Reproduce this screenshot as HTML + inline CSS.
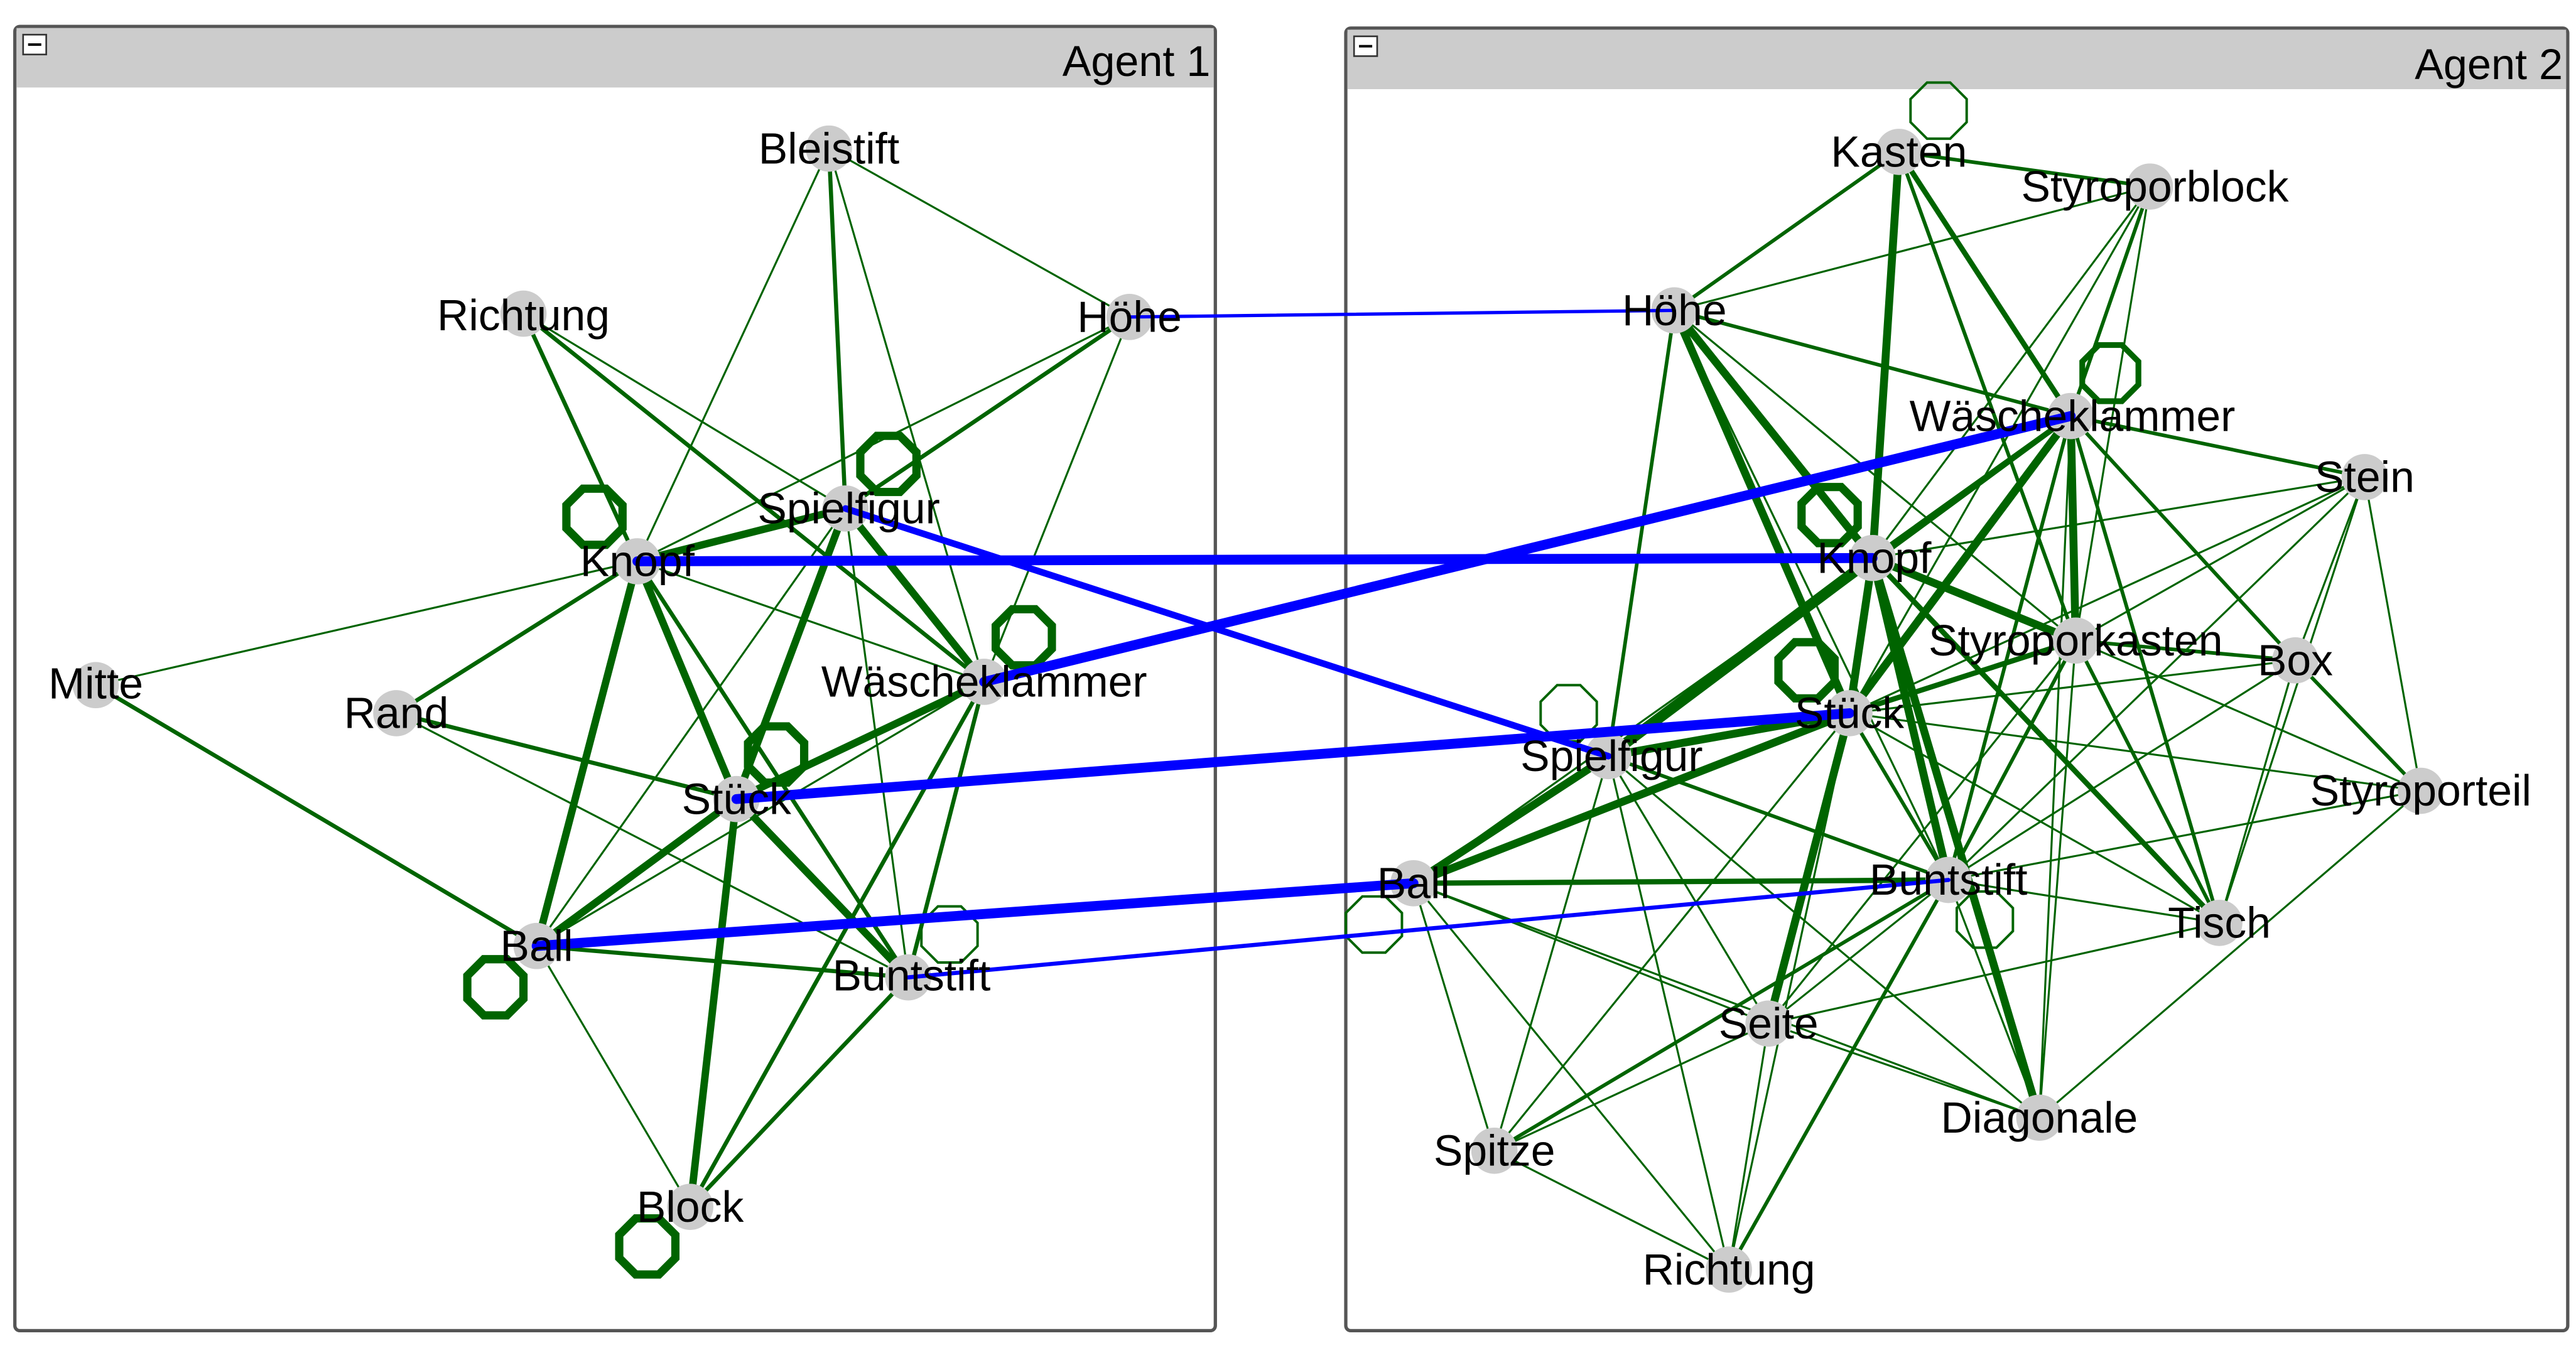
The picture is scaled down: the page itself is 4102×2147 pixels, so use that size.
<!DOCTYPE html>
<html><head><meta charset="utf-8"><style>
html,body{margin:0;padding:0;background:#fff;}
svg{display:block;}
text{font-family:"Liberation Sans",sans-serif;font-size:26.5px;fill:#000;text-anchor:middle;}
</style></head><body>
<svg width="4102" height="2147" viewBox="0 0 1560 816.5" preserveAspectRatio="none" xmlns="http://www.w3.org/2000/svg">
<defs>
<polygon id="oct" points="-7,-17 7,-17 17,-7 17,7 7,17 -7,17 -17,7 -17,-7" fill="none"/>
</defs>
<rect x="9" y="16" width="727" height="790" rx="3" fill="#fff" stroke="#555" stroke-width="2"/>
<rect x="10" y="17" width="725" height="36" fill="#cccccc"/>
<rect x="14" y="21" width="14" height="12" fill="#fff" stroke="#333" stroke-width="1"/><line x1="17" y1="27" x2="25" y2="27" stroke="#000" stroke-width="1.5"/>
<text x="733" y="46" style="text-anchor:end;font-size:26px">Agent 1</text>
<rect x="815" y="17" width="740" height="789" rx="3" fill="#fff" stroke="#555" stroke-width="2"/>
<rect x="816" y="18" width="738" height="36" fill="#cccccc"/>
<rect x="820" y="22" width="14" height="12" fill="#fff" stroke="#333" stroke-width="1"/><line x1="823" y1="28" x2="831" y2="28" stroke="#000" stroke-width="1.5"/>
<text x="1552" y="48" style="text-anchor:end;font-size:26px">Agent 2</text>

<g stroke="#006400" fill="none" stroke-linecap="round">
<g stroke-width="1.2">
<line x1="502" y1="90" x2="684" y2="192"/>
<line x1="502" y1="90" x2="386" y2="340"/>
<line x1="502" y1="90" x2="596" y2="413"/>
<line x1="684" y1="192" x2="386" y2="340"/>
<line x1="684" y1="192" x2="596" y2="413"/>
<line x1="386" y1="340" x2="58" y2="415"/>
<line x1="386" y1="340" x2="240" y2="432"/>
<line x1="386" y1="340" x2="596" y2="413"/>
<line x1="512" y1="308" x2="325" y2="573"/>
<line x1="512" y1="308" x2="550" y2="592"/>
<line x1="240" y1="432" x2="550" y2="592"/>
<line x1="596" y1="413" x2="325" y2="573"/>
<line x1="446" y1="484" x2="325" y2="573"/>
<line x1="325" y1="573" x2="418" y2="731"/>
<line x1="317" y1="190" x2="512" y2="308"/>
</g>
<g stroke-width="2.5">
<line x1="317" y1="190" x2="386" y2="340"/>
<line x1="317" y1="190" x2="596" y2="413"/>
<line x1="502" y1="90" x2="512" y2="308"/>
<line x1="684" y1="192" x2="512" y2="308"/>
<line x1="386" y1="340" x2="240" y2="432"/>
<line x1="58" y1="415" x2="325" y2="573"/>
<line x1="240" y1="432" x2="446" y2="484"/>
<line x1="386" y1="340" x2="550" y2="592"/>
<line x1="596" y1="413" x2="550" y2="592"/>
<line x1="325" y1="573" x2="550" y2="592"/>
<line x1="596" y1="413" x2="418" y2="731"/>
<line x1="550" y1="592" x2="418" y2="731"/>
</g>
<g stroke-width="4.5">
<line x1="512" y1="308" x2="386" y2="340"/>
<line x1="512" y1="308" x2="446" y2="484"/>
<line x1="512" y1="308" x2="596" y2="413"/>
<line x1="386" y1="340" x2="325" y2="573"/>
<line x1="386" y1="340" x2="446" y2="484"/>
<line x1="596" y1="413" x2="446" y2="484"/>
<line x1="446" y1="484" x2="325" y2="573"/>
<line x1="446" y1="484" x2="550" y2="592"/>
<line x1="446" y1="484" x2="418" y2="731"/>
</g>
<g stroke-width="1.2">
<line x1="1302" y1="113" x2="1014" y2="188"/>
<line x1="1302" y1="113" x2="1257" y2="388"/>
<line x1="1302" y1="113" x2="1134" y2="338"/>
<line x1="1302" y1="113" x2="1120" y2="432"/>
<line x1="1014" y1="188" x2="1257" y2="388"/>
<line x1="1014" y1="188" x2="1180" y2="533"/>
<line x1="1432" y1="289" x2="1134" y2="338"/>
<line x1="1432" y1="289" x2="1257" y2="388"/>
<line x1="1432" y1="289" x2="1390" y2="400"/>
<line x1="1432" y1="289" x2="1466" y2="479"/>
<line x1="1432" y1="289" x2="1120" y2="432"/>
<line x1="1432" y1="289" x2="1180" y2="533"/>
<line x1="1432" y1="289" x2="1344" y2="559"/>
<line x1="1134" y1="338" x2="856" y2="535"/>
<line x1="1257" y1="388" x2="1466" y2="479"/>
<line x1="1257" y1="388" x2="1071" y2="620"/>
<line x1="1257" y1="388" x2="1235" y2="677"/>
<line x1="1390" y1="400" x2="1344" y2="559"/>
<line x1="1390" y1="400" x2="1120" y2="432"/>
<line x1="1390" y1="400" x2="1180" y2="533"/>
<line x1="1120" y1="432" x2="1466" y2="479"/>
<line x1="1120" y1="432" x2="1344" y2="559"/>
<line x1="1120" y1="432" x2="1047" y2="769"/>
<line x1="1120" y1="432" x2="905" y2="697"/>
<line x1="974" y1="458" x2="1071" y2="620"/>
<line x1="974" y1="458" x2="1047" y2="769"/>
<line x1="974" y1="458" x2="905" y2="697"/>
<line x1="974" y1="458" x2="1235" y2="677"/>
<line x1="856" y1="535" x2="1071" y2="620"/>
<line x1="856" y1="535" x2="905" y2="697"/>
<line x1="856" y1="535" x2="1047" y2="769"/>
<line x1="856" y1="535" x2="1235" y2="677"/>
<line x1="1180" y1="533" x2="1344" y2="559"/>
<line x1="1180" y1="533" x2="1235" y2="677"/>
<line x1="1180" y1="533" x2="1466" y2="479"/>
<line x1="1180" y1="533" x2="1071" y2="620"/>
<line x1="1344" y1="559" x2="1071" y2="620"/>
<line x1="1466" y1="479" x2="1235" y2="677"/>
<line x1="1071" y1="620" x2="905" y2="697"/>
<line x1="1071" y1="620" x2="1047" y2="769"/>
<line x1="1071" y1="620" x2="1235" y2="677"/>
<line x1="905" y1="697" x2="1047" y2="769"/>
<line x1="1254" y1="252" x2="1120" y2="432"/>
<line x1="1254" y1="252" x2="1235" y2="677"/>
</g>
<g stroke-width="2.2">
<line x1="1150" y1="92" x2="1302" y2="113"/>
<line x1="1150" y1="92" x2="1014" y2="188"/>
<line x1="1150" y1="92" x2="1257" y2="388"/>
<line x1="1302" y1="113" x2="1254" y2="252"/>
<line x1="1014" y1="188" x2="1254" y2="252"/>
<line x1="1014" y1="188" x2="974" y2="458"/>
<line x1="1254" y1="252" x2="1432" y2="289"/>
<line x1="1254" y1="252" x2="1390" y2="400"/>
<line x1="1254" y1="252" x2="1344" y2="559"/>
<line x1="1254" y1="252" x2="1180" y2="533"/>
<line x1="1257" y1="388" x2="1390" y2="400"/>
<line x1="1257" y1="388" x2="1180" y2="533"/>
<line x1="1257" y1="388" x2="1344" y2="559"/>
<line x1="1390" y1="400" x2="1466" y2="479"/>
<line x1="1180" y1="533" x2="905" y2="697"/>
<line x1="1180" y1="533" x2="1047" y2="769"/>
<line x1="974" y1="458" x2="1180" y2="533"/>
<line x1="1120" y1="432" x2="1180" y2="533"/>
</g>
<g stroke-width="3.2">
<line x1="1150" y1="92" x2="1254" y2="252"/>
<line x1="1254" y1="252" x2="1134" y2="338"/>
<line x1="1134" y1="338" x2="1344" y2="559"/>
<line x1="1257" y1="388" x2="1120" y2="432"/>
<line x1="856" y1="535" x2="1180" y2="533"/>
<line x1="1254" y1="252" x2="974" y2="458"/>
</g>
<g stroke-width="4.8">
<line x1="1150" y1="92" x2="1134" y2="338"/>
<line x1="1014" y1="188" x2="1134" y2="338"/>
<line x1="1014" y1="188" x2="1120" y2="432"/>
<line x1="1254" y1="252" x2="1257" y2="388"/>
<line x1="1254" y1="252" x2="1120" y2="432"/>
<line x1="1134" y1="338" x2="1257" y2="388"/>
<line x1="1134" y1="338" x2="1120" y2="432"/>
<line x1="1134" y1="338" x2="1180" y2="533"/>
<line x1="1134" y1="338" x2="1235" y2="677"/>
<line x1="1120" y1="432" x2="974" y2="458"/>
<line x1="1120" y1="432" x2="856" y2="535"/>
<line x1="1120" y1="432" x2="1071" y2="620"/>
<line x1="974" y1="458" x2="856" y2="535"/>
</g>
<line x1="1134" y1="338" x2="974" y2="458" stroke-width="6.5"/>
<g stroke-width="5">
<use href="#oct" x="360" y="313"/>
<use href="#oct" x="538" y="281"/>
<use href="#oct" x="620" y="386"/>
<use href="#oct" x="470" y="457"/>
<use href="#oct" x="300" y="598"/>
<use href="#oct" x="392" y="755"/>
<use href="#oct" x="1108" y="312"/>
<use href="#oct" x="1094" y="406"/>
</g>
<g stroke-width="3.5"><use href="#oct" x="1278" y="226"/></g>
<g stroke-width="1.5">
<use href="#oct" x="575" y="566"/>
<use href="#oct" x="1174" y="67"/>
<use href="#oct" x="950" y="432"/>
<use href="#oct" x="832" y="560"/>
<use href="#oct" x="1202" y="557"/>
</g>
</g>
<g fill="#cccccc">
<circle cx="502" cy="90" r="14"/><circle cx="317" cy="190" r="14"/><circle cx="684" cy="192" r="14"/>
<circle cx="512" cy="308" r="14"/><circle cx="386" cy="340" r="14"/><circle cx="58" cy="415" r="14"/>
<circle cx="240" cy="432" r="14"/><circle cx="596" cy="413" r="14"/><circle cx="446" cy="484" r="14"/>
<circle cx="325" cy="573" r="14"/><circle cx="550" cy="592" r="14"/><circle cx="418" cy="731" r="14"/>
<circle cx="1150" cy="92" r="14"/><circle cx="1302" cy="113" r="14"/><circle cx="1014" cy="188" r="14"/>
<circle cx="1254" cy="252" r="14"/><circle cx="1432" cy="289" r="14"/><circle cx="1134" cy="338" r="14"/>
<circle cx="1257" cy="388" r="14"/><circle cx="1390" cy="400" r="14"/><circle cx="1120" cy="432" r="14"/>
<circle cx="974" cy="458" r="14"/><circle cx="1466" cy="479" r="14"/><circle cx="856" cy="535" r="14"/>
<circle cx="1180" cy="533" r="14"/><circle cx="1344" cy="559" r="14"/><circle cx="1071" cy="620" r="14"/>
<circle cx="1235" cy="677" r="14"/><circle cx="905" cy="697" r="14"/><circle cx="1047" cy="769" r="14"/>
</g>
<g stroke="#0000ff" stroke-linecap="round">
<line x1="684" y1="192" x2="1014" y2="188" stroke-width="2"/>
<line x1="386" y1="340" x2="1134" y2="338" stroke-width="6"/>
<line x1="512" y1="308" x2="974" y2="458" stroke-width="4"/>
<line x1="596" y1="413" x2="1254" y2="252" stroke-width="6"/>
<line x1="446" y1="484" x2="1120" y2="432" stroke-width="6"/>
<line x1="325" y1="573" x2="856" y2="535" stroke-width="6"/>
<line x1="550" y1="592" x2="1180" y2="533" stroke-width="2.5"/>
</g>
<g>
<text x="502" y="99">Bleistift</text><text x="317" y="200">Richtung</text><text x="684" y="201">Höhe</text>
<text x="514" y="317">Spielfigur</text><text x="386" y="349">Knopf</text><text x="58" y="423">Mitte</text>
<text x="240" y="441">Rand</text><text x="596" y="422">Wäscheklammer</text><text x="446" y="493">Stück</text>
<text x="325" y="582">Ball</text><text x="552" y="600">Buntstift</text><text x="418" y="740">Block</text>
<text x="1150" y="101">Kasten</text><text x="1305" y="122">Styroporblock</text><text x="1014" y="197">Höhe</text>
<text x="1255" y="261">Wäscheklammer</text><text x="1432" y="298">Stein</text><text x="1135" y="347">Knopf</text>
<text x="1257" y="397">Styroporkasten</text><text x="1390" y="409">Box</text><text x="1120" y="441">Stück</text>
<text x="976" y="467">Spielfigur</text><text x="1466" y="488">Styroporteil</text><text x="856" y="544">Ball</text>
<text x="1180" y="542">Buntstift</text><text x="1344" y="568">Tisch</text><text x="1071" y="629">Seite</text>
<text x="1235" y="686">Diagonale</text><text x="905" y="706">Spitze</text><text x="1047" y="778">Richtung</text>
</g>
</svg>
</body></html>
